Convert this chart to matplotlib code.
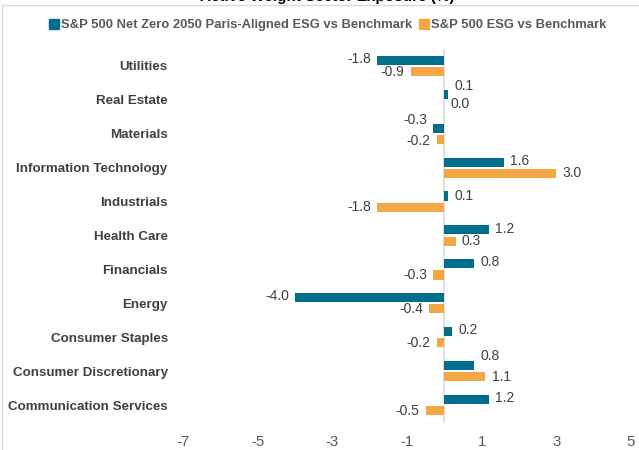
import matplotlib
matplotlib.use("Agg")
import matplotlib.pyplot as plt
from matplotlib import font_manager
from matplotlib.lines import Line2D
import numpy as np

categories = ["Utilities", "Real Estate", "Materials", "Information Technology",
              "Industrials", "Health Care", "Financials", "Energy",
              "Consumer Staples", "Consumer Discretionary", "Communication Services"]
net_zero = [-1.8, 0.1, -0.3, 1.6, 0.1, 1.2, 0.8, -4.0, 0.2, 0.8, 1.2]
esg = [-0.9, 0.0, -0.2, 3.0, -1.8, 0.3, -0.3, -0.4, -0.2, 1.1, -0.5]
series_names = ["S&P 500 Net Zero 2050 Paris-Aligned ESG vs Benchmark",
                "S&P 500 ESG vs Benchmark"]
xticks = [-7, -5, -3, -1, 1, 3, 5]
title = "Active Weight Sector Exposure (%)"

# label nudges (points, positive = up)
nz_nudge = [1, 6, 6, 1, 0, 1, 1, 1, 1, 7, 1]
esg_nudge = [0, 1, -1, 0, 0, 0, 0, 0, 0, 0, 0]

teal = "#006E8C"
orange = "#F4A745"

avail = {f.name for f in font_manager.fontManager.ttflist}
base = "Liberation Sans" if "Liberation Sans" in avail else "DejaVu Sans"
narrow = "Liberation Sans Narrow" if "Liberation Sans Narrow" in avail else base
plt.rcParams["font.family"] = [base, "DejaVu Sans"]

fig = plt.figure(figsize=(6.39, 4.5), dpi=100)
W, H = 639, 450
ax = fig.add_axes([183 / W, 1 - 422 / H, (631 - 183) / W, (422 - 49) / H])

y = np.arange(len(categories))
off, h = 0.165, 0.27
ax.barh(y - off, net_zero, height=h, color=teal, zorder=3)
ax.barh(y + off, esg, height=h, color=orange, zorder=3)

ax.set_xlim(-7, 5)
ax.set_ylim(len(categories) - 0.5, -0.5)
ax.axvline(0, color="#D9D9D9", lw=1.2, zorder=2)

for s in ax.spines.values():
    s.set_visible(False)

ax.set_xticks(xticks)
ax.set_xticklabels([str(t) for t in xticks], fontfamily=narrow, fontsize=10.8, color="#595959")
ax.tick_params(axis="x", length=0, pad=9)
ax.set_yticks(y)
ax.set_yticklabels(categories, fontsize=9.6, fontweight="bold", color="#404040")
ax.tick_params(axis="y", length=0, pad=11)

def label(vals, yy, nud):
    for v, yi, n in zip(vals, yy, nud):
        dx = 4.5 if v >= 0 else -4.5
        ha = "left" if v >= 0 else "right"
        ax.annotate(f"{v:.1f}", (v, yi), xytext=(dx, n), textcoords="offset points",
                    ha=ha, va="center", fontsize=10, color="#404040", zorder=4)

label(net_zero, y - off, nz_nudge)
label(esg, y + off, esg_nudge)

# legend
handles = [Line2D([], [], marker="s", ls="", color=teal, markersize=6.5),
           Line2D([], [], marker="s", ls="", color=orange, markersize=6.5)]
leg = fig.legend(handles, series_names, loc="center", bbox_to_anchor=(328 / W, 1 - 25 / H),
                 ncol=2, frameon=False, handlelength=0.6, handletextpad=0.25,
                 columnspacing=0.6, prop={"weight": "bold", "size": 9.4})
for t in leg.get_texts():
    t.set_color("#595959")

# title (partly outside the top edge, as in the reference)
fig.text(327 / W, 1 - 0.5 / H, title, ha="center", va="baseline", fontsize=11,
         fontweight="bold", color="#000000")

# chart frame
fig.add_artist(Line2D([1.5 / W, 1], [1 - 4.5 / H, 1 - 4.5 / H], transform=fig.transFigure,
                      color="#D9D9D9", lw=1))
fig.add_artist(Line2D([1.5 / W, 1.5 / W], [0, 1 - 4.5 / H], transform=fig.transFigure,
                      color="#D9D9D9", lw=1))

fig.savefig("out.png", dpi=100)
